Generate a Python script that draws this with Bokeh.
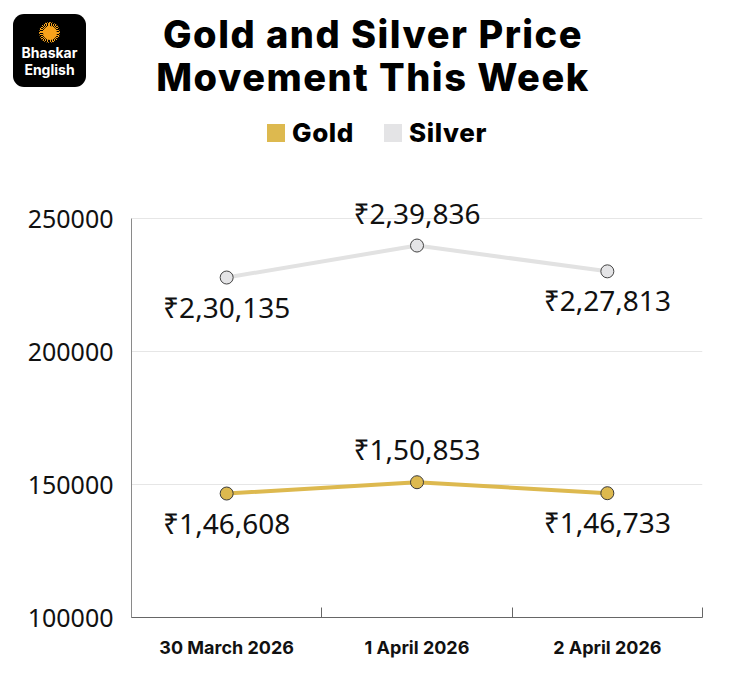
from bokeh.plotting import figure
from bokeh.models import ColumnDataSource, Range1d, FixedTicker, Div
from bokeh.layouts import column
from bokeh.core.properties import value
from bokeh.embed import file_html
from bokeh.resources import INLINE

# ---- data ----
dates = ["30 March 2026", "1 April 2026", "2 April 2026"]
gold = [146608, 150853, 146733]
gold_labels = ["₹1,46,608", "₹1,50,853", "₹1,46,733"]
silver = [227813, 239836, 230135]
silver_labels = ["₹2,30,135", "₹2,39,836", "₹2,27,813"]
label_side = ["below", "above", "below"]
y_ticks = [100000, 150000, 200000, 250000]

title_lines = ["Gold and Silver Price", "Movement This Week"]
logo_lines = ["Bhaskar", "English"]

GOLD = "#DDB94F"
SILVER = "#E4E4E6"
SILVER_LINE = "#E2E2E2"

# ---- header (logo, title, legend) ----
header_html = f"""
<div style="position:relative;width:730px;height:170px;font-family:Inter, sans-serif;">
  <div style="position:absolute;left:13px;top:14px;width:73px;height:73px;background:#000;border-radius:11px;">
    <div style="position:absolute;left:26px;top:8px;width:21px;height:21px;border-radius:50%;
         background:repeating-conic-gradient(#F7A21B 0deg 6deg, transparent 6deg 12deg);"></div>
    <div style="position:absolute;left:29.5px;top:11.5px;width:14px;height:14px;border-radius:50%;background:#F7A21B;"></div>
    <div style="position:absolute;left:0;top:31px;width:73px;height:16px;text-align:center;color:#fff;
         font-weight:700;font-size:14px;line-height:16px;">{logo_lines[0]}</div>
    <div style="position:absolute;left:0;top:48px;width:73px;height:16px;text-align:center;color:#fff;
         font-weight:700;font-size:14px;line-height:16px;">{logo_lines[1]}</div>
  </div>
  <div style="position:absolute;left:0;top:13px;width:746px;text-align:center;color:#000;
       font-weight:800;font-size:38px;line-height:43px;letter-spacing:1.5px;">{title_lines[0]}<br>{title_lines[1]}</div>
  <div style="position:absolute;left:267px;top:118px;height:30px;display:flex;align-items:center;
       font-weight:800;font-size:26px;letter-spacing:0.6px;color:#000;">
    <span style="display:inline-block;width:18px;height:18px;background:{GOLD};margin-right:7px;"></span>
    <span style="margin-right:30px;">Gold</span>
    <span style="display:inline-block;width:18px;height:18px;background:{SILVER};margin-right:7px;"></span>
    <span>Silver</span>
  </div>
</div>
"""
header = Div(text=header_html, width=730, height=170, margin=(0, 0, 0, 0))

# ---- chart ----
x = [i + 0.5 for i in range(len(dates))]
offsets = [-33 if s == "above" else 29 for s in label_side]

gold_src = ColumnDataSource(dict(x=x, y=gold, label=gold_labels, off=offsets))
silver_src = ColumnDataSource(dict(x=x, y=silver, label=silver_labels, off=offsets))

p = figure(width=730, height=509, output_backend="svg", toolbar_location=None,
           x_range=Range1d(0, len(dates)),
           y_range=Range1d(100000, 264286),
           min_border_left=131, min_border_right=28, min_border_top=10, min_border_bottom=62,
           margin=(0, 0, 0, 0))
p.outline_line_color = None
p.background_fill_color = "white"

# x axis
p.xaxis.ticker = FixedTicker(ticks=x, minor_ticks=list(range(len(dates) + 1)))
p.xaxis.major_label_overrides = {xi: d for xi, d in zip(x, dates)}
p.xaxis.major_tick_line_color = None
p.xaxis.minor_tick_in = 10
p.xaxis.minor_tick_out = 0
p.xaxis.minor_tick_line_color = "#666666"
p.xaxis.axis_line_color = "#666666"
p.xaxis.axis_line_width = 1.2
p.xaxis.major_label_text_font = "Inter"
p.xaxis.major_label_text_font_style = "bold"
p.xaxis.major_label_text_font_size = "18px"
p.xaxis.major_label_text_color = "#111111"
p.xaxis.major_label_standoff = 13
p.xgrid.visible = False

# y axis
p.yaxis.ticker = FixedTicker(ticks=y_ticks)
p.yaxis.bounds = (y_ticks[0], y_ticks[-1])
p.yaxis.major_label_overrides = {t: str(t) for t in y_ticks}
p.yaxis.major_tick_line_color = None
p.yaxis.minor_tick_line_color = None
p.yaxis.axis_line_color = "#8a8a8a"
p.yaxis.major_label_text_font = "Noto Sans"
p.yaxis.major_label_text_font_size = "25px"
p.yaxis.major_label_text_color = "#111111"
p.yaxis.major_label_standoff = 12
p.ygrid.grid_line_color = "#e6e6e6"
p.ygrid.ticker = FixedTicker(ticks=y_ticks[1:])

# series
p.line("x", "y", source=silver_src, line_color=SILVER_LINE, line_width=4)
p.scatter("x", "y", source=silver_src, size=13, fill_color=SILVER, line_color="#444444", line_width=1)
p.line("x", "y", source=gold_src, line_color=GOLD, line_width=4)
p.scatter("x", "y", source=gold_src, size=13, fill_color=GOLD, line_color="#3a3a3a", line_width=1)

for src in (silver_src, gold_src):
    p.text("x", "y", text="label", source=src, y_offset="off",
           text_font=value("Noto Sans"), text_font_size="28px", text_color="#111111",
           text_align="center", text_baseline="middle")

layout = column(header, p, spacing=0)
open("out.html", "w").write(file_html(layout, INLINE))
